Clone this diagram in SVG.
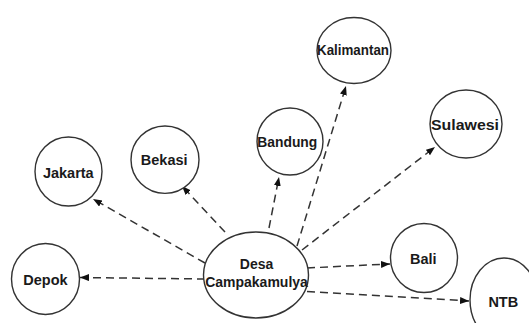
<svg xmlns="http://www.w3.org/2000/svg" width="529" height="323" viewBox="0 0 529 323">
<style>
.node ellipse{fill:#fff;stroke:#333;stroke-width:1.4}
.lbl{font-family:"Liberation Sans",Arial,sans-serif;font-weight:bold;font-size:14.5px;fill:#1a1a1a;text-anchor:middle}
.main{font-family:"Liberation Sans",Arial,sans-serif;font-weight:bold;font-size:14px;fill:#1a1a1a;text-anchor:middle}
.edge{fill:none;stroke:#333;stroke-width:1.5;stroke-dasharray:8 5;marker-end:url(#arr)}
</style>
<defs>
<marker id="arr" markerUnits="userSpaceOnUse" markerWidth="10" markerHeight="8" refX="9" refY="3.5" orient="auto">
<path d="M0,0 L9,3.5 L0,7 z" fill="#111"/>
</marker>
</defs>
<rect width="529" height="323" fill="#fff"/>
<g id="connectors">
<line class="edge" x1="205" y1="263" x2="93" y2="199"/>
<line class="edge" x1="225" y1="232" x2="182" y2="186"/>
<line class="edge" x1="205" y1="279" x2="80" y2="277.5"/>
<line class="edge" x1="269" y1="228" x2="279" y2="177"/>
<line class="edge" x1="297" y1="246" x2="346" y2="86"/>
<line class="edge" x1="302" y1="250" x2="435" y2="147"/>
<line class="edge" x1="307" y1="268" x2="390" y2="264"/>
<line class="edge" x1="307" y1="291.5" x2="469" y2="301"/>
</g>
<g id="node-kalimantan" class="node"><ellipse cx="354" cy="50.5" rx="37" ry="33"/><text class="lbl" x="353" y="54.5" textLength="72" lengthAdjust="spacingAndGlyphs">Kalimantan</text></g>
<g id="node-jakarta" class="node"><ellipse cx="68.5" cy="171.5" rx="33.5" ry="34.5"/><text class="lbl" x="68.3" y="178">Jakarta</text></g>
<g id="node-bekasi" class="node"><ellipse cx="165" cy="159.7" rx="34" ry="33.7"/><text class="lbl" x="164.2" y="165">Bekasi</text></g>
<g id="node-bandung" class="node"><ellipse cx="290" cy="141.5" rx="33" ry="33.5"/><text class="lbl" x="287.3" y="147" textLength="60" lengthAdjust="spacingAndGlyphs">Bandung</text></g>
<g id="node-sulawesi" class="node"><ellipse cx="466" cy="124" rx="36" ry="34"/><text class="lbl" x="465" y="130" textLength="68" lengthAdjust="spacingAndGlyphs">Sulawesi</text></g>
<g id="node-depok" class="node"><ellipse cx="45.5" cy="279" rx="34" ry="35.5"/><text class="lbl" x="45.5" y="285">Depok</text></g>
<g id="node-bali" class="node"><ellipse cx="424" cy="258" rx="33.5" ry="34.5"/><text class="lbl" x="423.3" y="264">Bali</text></g>
<g id="node-ntb" class="node"><ellipse cx="504" cy="300" rx="34" ry="42"/><text class="lbl" x="503.3" y="306.5">NTB</text></g>
<g id="node-desa" class="node"><ellipse cx="256" cy="275" rx="52.5" ry="43"/><text class="main" x="256.5" y="269">Desa</text><text class="main" x="256.5" y="286.7">Campakamulya</text></g>
</svg>
